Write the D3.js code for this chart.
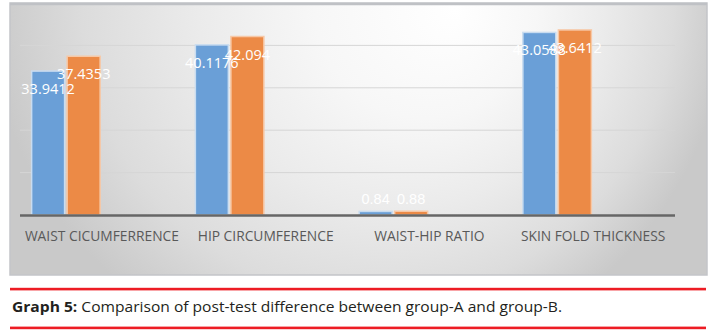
<!DOCTYPE html>
<html>
<head>
<meta charset="utf-8">
<script src="https://cdn.jsdelivr.net/npm/d3@7"></script>
<style>
  html, body { margin: 0; padding: 0; background: #ffffff; }
  svg { display: block; }
</style>
</head>
<body>
<svg id="chart" width="715" height="336"></svg>
<script>
// ---- data ----
const categories = ["WAIST CICUMFERRENCE", "HIP CIRCUMFERENCE", "WAIST-HIP RATIO", "SKIN FOLD THICKNESS"];
const seriesNames = ["group-A", "group-B"];
const groupA = [33.9412, 40.1176, 0.84, 43.0588];
const groupB = [37.4353, 42.094, 0.88, 43.6412];
const labelsA = ["33.9412", "40.1176", "0.84", "43.0588"];
const labelsB = ["37.4353", "42.094", "0.88", "43.6412"];
const yTicks = [0, 10, 20, 30, 40, 50];
const captionBold = "Graph 5:";
const captionText = " Comparison of post-test difference between group-A and group-B.";

const colors = { "group-A": "#6a9fd7", "group-B": "#ec8a46" };
const strokes = { "group-A": "#c9dcf0", "group-B": "#f7c8a6" };

const svg = d3.select("#chart");

// ---- panel background ----
const defs = svg.append("defs");
const grad = defs.append("radialGradient")
  .attr("id", "bg").attr("gradientUnits", "userSpaceOnUse")
  .attr("cx", 358).attr("cy", 0).attr("r", 370)
  .attr("fx", 455).attr("fy", 10);
[[0, "#ffffff"], [0.3, "#f7f7f7"], [0.55, "#ebebeb"], [0.8, "#dcdcdc"], [1, "#c9c9c9"]]
  .forEach(([o, c]) => grad.append("stop").attr("offset", o).attr("stop-color", c));

svg.append("rect").attr("x", 10).attr("y", 3).attr("width", 697).attr("height", 272)
  .attr("fill", "url(#bg)").attr("stroke", "#c3c5c9").attr("stroke-width", 1.5);
svg.append("line").attr("x1", 10).attr("x2", 707).attr("y1", 4).attr("y2", 4)
  .attr("stroke", "#bfc1c5").attr("stroke-width", 2.5);

// ---- scales ----
const x = d3.scaleBand().domain(categories).range([20, 675]).padding(0);
const y = d3.scaleLinear().domain([0, 50]).range([215, 3]);
const xSub = d3.scaleBand().domain(seriesNames).range([-71, -1]).paddingInner(0.03);

// gridlines
svg.append("g").selectAll("line").data(yTicks.filter(t => t > 0 && t < 50)).join("line")
  .attr("x1", 20).attr("x2", 675)
  .attr("y1", d => y(d)).attr("y2", d => y(d))
  .attr("stroke", "#d6d6d6").attr("stroke-width", 1);

// bars
const rows = categories.map((c, i) => ({ cat: c, vals: [
  { s: "group-A", v: groupA[i], label: labelsA[i] },
  { s: "group-B", v: groupB[i], label: labelsB[i] }
]}));

const groups = svg.append("g").selectAll("g").data(rows).join("g")
  .attr("transform", d => `translate(${x(d.cat) + x.bandwidth() / 2},0)`);

groups.selectAll("rect").data(d => d.vals).join("rect")
  .attr("x", d => xSub(d.s) + 0.75)
  .attr("width", xSub.bandwidth() - 1.5)
  .attr("y", d => y(d.v))
  .attr("height", d => y(0) - y(d.v))
  .attr("fill", d => colors[d.s])
  .attr("stroke", d => strokes[d.s])
  .attr("stroke-width", 1.5);

// baseline
svg.append("line").attr("x1", 20).attr("x2", 675).attr("y1", y(0) + 0.5).attr("y2", y(0) + 0.5)
  .attr("stroke", "#666666").attr("stroke-width", 2.5);

// data labels
groups.selectAll("text.dl").data(d => d.vals).join("text")
  .attr("class", "dl")
  .attr("x", d => xSub(d.s) + xSub.bandwidth() / 2)
  .attr("y", d => (y(0) - y(d.v) > 30) ? y(d.v) + 23 : y(d.v) - 7)
  .attr("text-anchor", "middle")
  .attr("font-family", d => (y(0) - y(d.v) > 30) ? "'Open Sans', sans-serif" : "'Liberation Sans', Arial, sans-serif")
  .attr("font-size", d => (y(0) - y(d.v) > 30) ? 14.5 : 14.5)
  .attr("fill", "#ffffff")
  .text(d => d.label);

// category axis
const xAxis = d3.axisBottom(x).tickSize(0).tickPadding(0);
const gx = svg.append("g").attr("transform", "translate(0,241)").call(xAxis);
gx.select(".domain").remove();
gx.selectAll("text")
  .attr("dy", 0)
  .attr("y", 0)
  .attr("font-family", "'Open Sans', sans-serif")
  .attr("font-size", 13.8)
  .attr("fill", "#595959");

// ---- caption ----
svg.append("rect").attr("x", 10).attr("y", 287.8).attr("width", 696).attr("height", 2.6).attr("fill", "#ed1c24");
svg.append("rect").attr("x", 10).attr("y", 326.6).attr("width", 696).attr("height", 2.6).attr("fill", "#ed1c24");
const cap = svg.append("text").attr("x", 12).attr("y", 311.5)
  .attr("font-family", "'Open Sans', sans-serif").attr("font-size", 14).attr("fill", "#231f20");
cap.append("tspan").attr("font-weight", "bold").text(captionBold);
cap.append("tspan").text(captionText);
const len = cap.node().getComputedTextLength();
if (Math.abs(len - 550) > 8) cap.attr("textLength", 550).attr("lengthAdjust", "spacingAndGlyphs");
</script>
</body>
</html>
